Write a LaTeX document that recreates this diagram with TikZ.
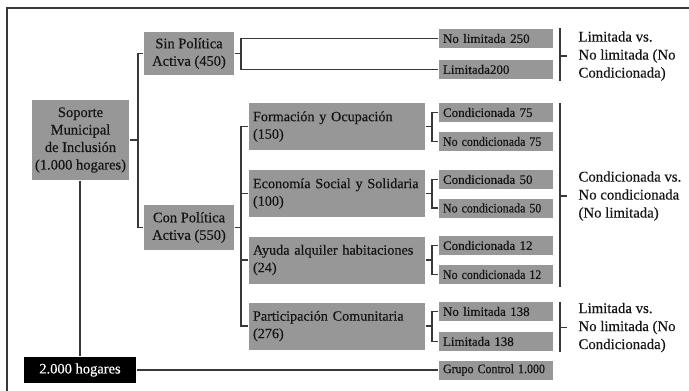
\documentclass[tikz,border=0pt]{standalone}
\usepackage{fontspec}
\setmainfont{Liberation Serif}[FakeBold=0.35]
\usepackage{graphicx}
\definecolor{boxgray}{HTML}{979797}
\definecolor{linegray}{HTML}{383838}
\definecolor{txt}{HTML}{141414}
\begin{document}
\begin{tikzpicture}[x=1pt,y=-1pt,line width=1.1pt,
  bx/.style={fill=boxgray, inner sep=0pt, text=txt},
  big/.style={bx, font=\fontsize{14.5}{17.5}\selectfont},
  mid/.style={bx, minimum width=176pt, minimum height=47pt, text width=168pt, inner xsep=4pt, align=left, font=\fontsize{14.2}{17.5}\selectfont},
  small/.style={bx, minimum width=114pt, minimum height=19pt, text width=106pt, inner xsep=4pt, align=left, font=\fontsize{13}{15}\selectfont},
  lab/.style={anchor=west, align=left, inner sep=0pt, text=txt, font=\fontsize{14.8}{18}\selectfont},
  conn/.style={draw=linegray, line width=1.1pt}]
\useasboundingbox (0,0) rectangle (689,391);
\fill[white] (0,0) rectangle (689,391);
\draw[draw=linegray, line width=1.4pt] (7,392) -- (7,8) -- (690,8);

\node[big, minimum width=97pt, minimum height=80pt, align=center] (sop) at (80.5,140) {Soporte\\Municipal\\de Inclusión\\(1.000 hogares)};
\node[big, minimum width=90pt, minimum height=43pt, align=center] (sin) at (189,53.5) {Sin Política\\Activa (450)};
\node[big, minimum width=90pt, minimum height=45pt, align=center] (con) at (189,227.5) {Con Política\\Activa (550)};
\node[mid] (form) at (337,126.5) {Formación y Ocupación\\(150)};
\node[mid] (eco) at (337,193.5) {Economía Social y Solidaria\\(100)};
\node[mid] (ayu) at (337,260) {Ayuda alquiler habitaciones\\(24)};
\node[mid] (par) at (337,326) {Participación Comunitaria\\(276)};
\node[big, fill=black, text=white, minimum width=112pt, minimum height=26pt] (hog) at (80,370) {2.000 hogares};

\node[small] (nl250) at (496,38.5) {No limitada 250};
\node[small] (l200) at (496,69.5) {Limitada200};
\node[small] (c75) at (496,112.5) {Condicionada 75};
\node[small] (nc75) at (496,141.5) {\scalebox{0.92}[1]{No condicionada 75}};
\node[small] (c50) at (496,179.5) {Condicionada 50};
\node[small] (nc50) at (496,208) {\scalebox{0.92}[1]{No condicionada 50}};
\node[small] (c12) at (496,245.5) {Condicionada 12};
\node[small] (nc12) at (496,274.5) {\scalebox{0.92}[1]{No condicionada 12}};
\node[small] (nl138) at (496,311.5) {No limitada 138};
\node[small] (l138) at (496,341.5) {Limitada 138};
\node[small] (gc) at (496,370) {\scalebox{0.92}[1]{Grupo Control 1.000}};

\node[lab] (lab1) at (578,56) {Limitada vs.\\No limitada (No\\Condicionada)};
\node[lab] (lab2) at (578,196) {Condicionada vs.\\No condicionada\\(No limitada)};
\node[lab] (lab3) at (578,327.5) {Limitada vs.\\No limitada (No\\Condicionada)};

\coordinate (j1) at (138,0);
\coordinate (j2) at (241,0);
\coordinate (j3) at (432,0);

\draw[conn] (sop.east) -- (sop.east -| j1);
\draw[conn] (sin.west) -- (sin.west -| j1) -- (con.west -| j1) -- (con.west);
\draw[conn] (sop.south -| hog.north) -- (hog.north);
\draw[conn] (hog.east) -- (gc.west);

\draw[conn] (sin.east) -- (sin.east -| j2);
\draw[conn] (nl250.west) -- (nl250.west -| j2) -- (l200.west -| j2) -- (l200.west);

\draw[conn] (con.east) -- (con.east -| j2);
\draw[conn] (form.west) -- (form.west -| j2) -- (par.west -| j2) -- (par.west);
\draw[conn] (eco.west) -- (eco.west -| j2);
\draw[conn] (ayu.west) -- (ayu.west -| j2);

\foreach \p/\a/\b in {form/c75/nc75, eco/c50/nc50, ayu/c12/nc12, par/nl138/l138}{
  \draw[conn] (\p.east) -- (\p.east -| j3);
  \draw[conn] (\a.west) -- (\a.west -| j3) -- (\b.west -| j3) -- (\b.west);
}

\coordinate (b1t) at (560,28);
\coordinate (b1b) at (560,81);
\coordinate (b2t) at (560,103);
\coordinate (b2b) at (560,287);
\coordinate (b3t) at (560,302);
\coordinate (b3b) at (560,352);
\draw[conn] (b1t) -- (b1b);
\draw[conn] (b1t |- lab1.west) -- ++(7,0);
\draw[conn] (b2t) -- (b2b);
\draw[conn] (b2t |- lab2.west) -- ++(7,0);
\draw[conn] (b3t) -- (b3b);
\draw[conn] (b3t |- lab3.west) -- ++(7,0);
\end{tikzpicture}
\end{document}
